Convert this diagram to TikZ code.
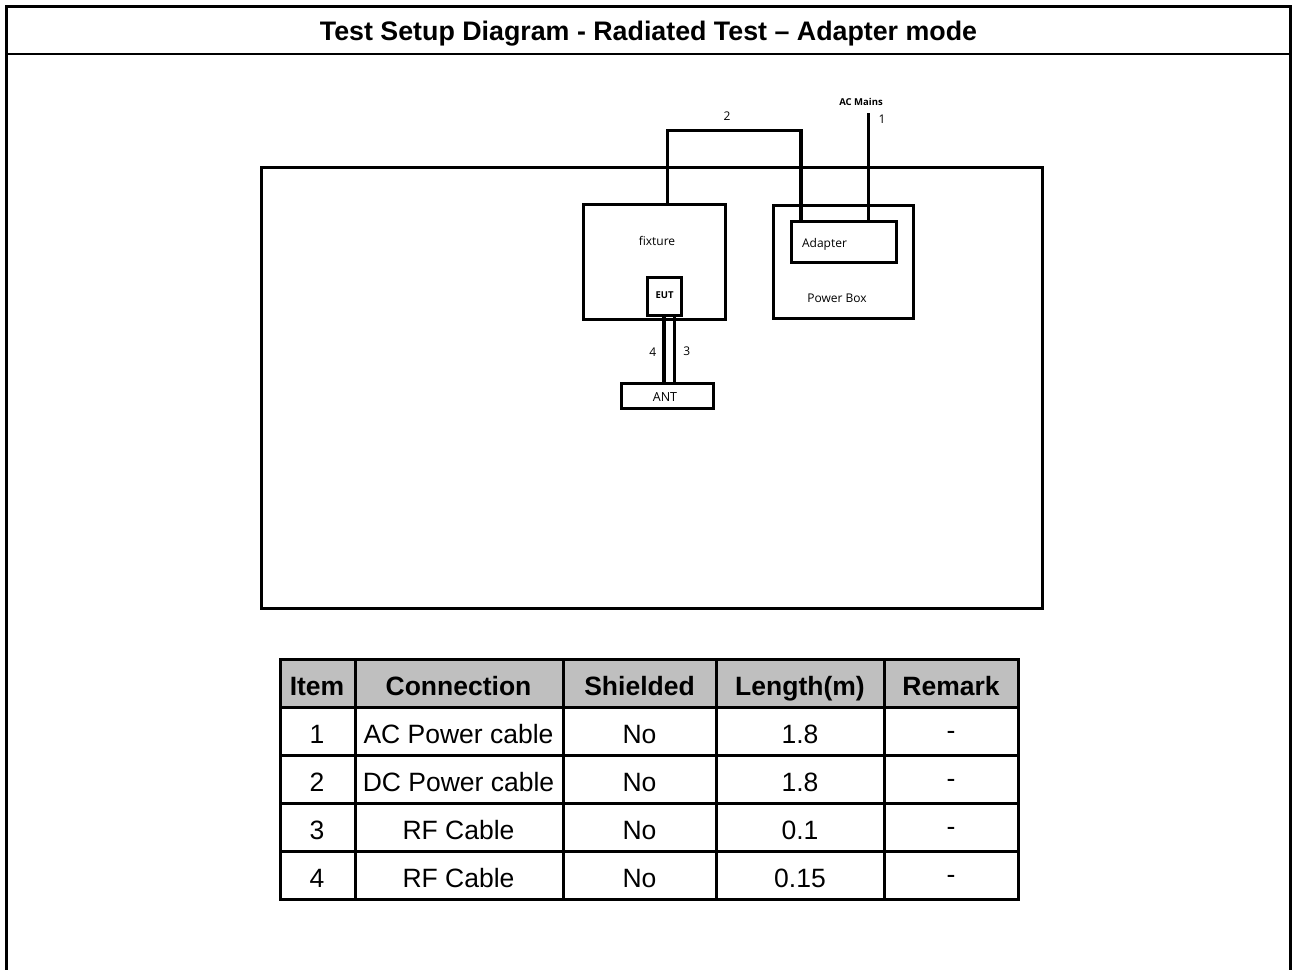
\documentclass[tikz,border=0pt]{standalone}
\usepackage{fontspec}
\setmainfont{Liberation Sans}
\newfontfamily\labelfont{Open Sans}
\begin{document}
\begin{tikzpicture}[x=1pt,y=-1pt,
  frame/.style={line width=3pt},
  box/.style={draw, line width=3pt, rectangle, inner sep=0pt, outer sep=0pt},
  cable/.style={line width=3.5pt},
  tag/.style={font=\labelfont\fontsize{12}{14}\selectfont, inner sep=0pt},
  grid/.style={line width=3pt},
  head/.style={font=\bfseries\fontsize{26.5}{30}\selectfont, inner sep=0pt, anchor=base},
  cell/.style={font=\fontsize{26.5}{30}\selectfont, inner sep=0pt, anchor=base}]
\useasboundingbox (0,0) rectangle (1292,969);

% page frame and title bar
\draw[frame] (6,975) -- (6,6.5) -- (1290,6.5) -- (1290,975);
\draw[line width=2.5pt] (6,54) -- (1290,54);
\node[font=\bfseries\fontsize{26.8}{30}\selectfont, inner sep=0pt, anchor=base] (title) at (648.5,40.5)
  {Test Setup Diagram - Radiated Test -- Adapter mode};

% test table area
\node[box, minimum width=781, minimum height=441] (table) at (652,387.5) {};

% fixture with EUT
\node[box, minimum width=142, minimum height=115] (fixture) at (654,262) {};
\node[tag] (fixturelbl) at (657,240.5) {fixture};
\node[box, minimum width=33.5, minimum height=37.5] (eut) at (664.7,296.7) {};
\node[tag, font=\labelfont\bfseries\fontsize{9.5}{11}\selectfont] (eutlbl) at (664.5,295) {EUT};

% antenna
\node[box, minimum width=92, minimum height=25] (ant) at (667.8,396.2) {};
\node[tag, font=\labelfont\fontsize{12.5}{14}\selectfont] (antlbl) at (665,397) {ANT};

% power box with adapter
\node[box, minimum width=140, minimum height=113] (pbox) at (843.8,262.1) {};
\node[box, minimum width=105, minimum height=41] (adapter) at (843.9,241.8) {};
\node[tag] (adapterlbl) at (824.5,244) {Adapter};
\node[tag] (pboxlbl) at (837,298.3) {Power Box};

% cable 1: AC mains into the adapter
\coordinate (mains) at (868.3,113);
\draw[cable] (mains) -- (mains |- adapter.north);
\node[tag, font=\labelfont\bfseries\fontsize{9.5}{11}\selectfont] (mainslbl) at (861,101.5) {AC Mains};
\node[tag] (c1) at (882,119.5) {1};

% cable 2: DC from adapter to fixture
\draw[cable] (667.5,0 |- fixture.north) -- (667.5,130.3) -- (801.2,130.3) -- (801.2,0 |- adapter.north);
\node[tag] (c2) at (727,116) {2};

% cables 3 and 4: RF between EUT and antenna
\draw[cable] (664,0 |- eut.south) -- (664,0 |- ant.north);
\draw[cable] (674.5,0 |- eut.south) -- (674.5,0 |- ant.north);
\node[tag] (c4) at (652.7,351.7) {4};
\node[tag] (c3) at (686.7,351.7) {3};

% cable list
\fill[gray!50] (280,659.5) rectangle (1018,707);
\draw[grid] (280,659.5) rectangle (1018,899.5);
\foreach \y in {707,755,803,851} \draw[grid] (280,\y) -- (1018,\y);
\foreach \x in {355,563,716,884} \draw[grid] (\x,659.5) -- (\x,899.5);

\node[head] (hitem) at (317,695) {Item};
\node[head] (hconn) at (458.5,695) {Connection};
\node[head] (hshield) at (639.5,695) {Shielded};
\node[head] (hlen) at (800,695) {Length(m)};
\node[head] (hrem) at (951,695) {Remark};

\foreach \i/\conn/\len [count=\r from 0] in {1/AC Power cable/1.8, 2/DC Power cable/1.8, 3/RF Cable/0.1, 4/RF Cable/0.15} {
  \pgfmathsetmacro{\yy}{743+48*\r}
  \pgfmathsetmacro{\yd}{739+48*\r}
  \node[cell] (item\i) at (317,\yy) {\i};
  \node[cell] (conn\i) at (458.5,\yy) {\conn};
  \node[cell] (shield\i) at (639.5,\yy) {No};
  \node[cell] (len\i) at (800,\yy) {\len};
  \node[cell] (rem\i) at (951,\yd) {-};
}
\end{tikzpicture}
\end{document}
